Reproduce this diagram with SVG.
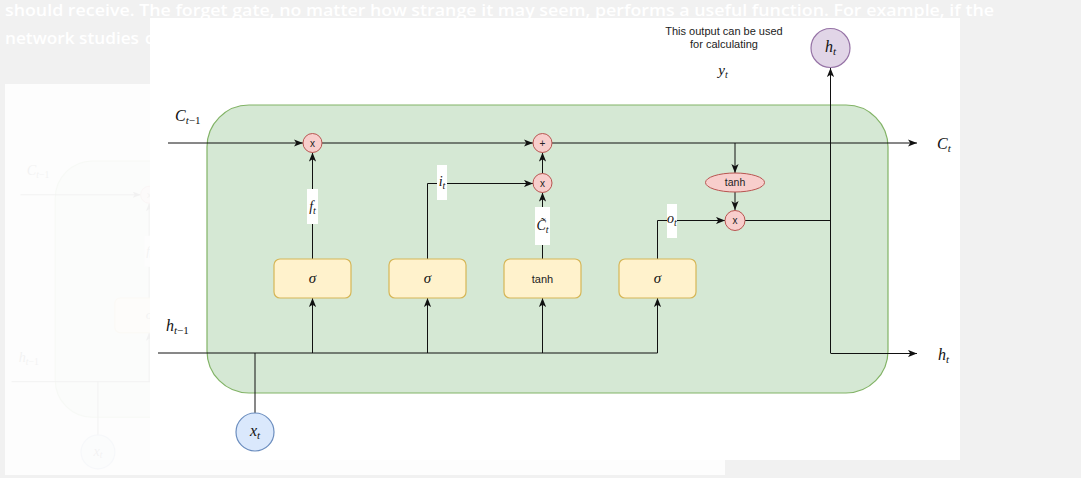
<svg xmlns="http://www.w3.org/2000/svg" xmlns:xlink="http://www.w3.org/1999/xlink" width="1081" height="478" viewBox="0 0 1081 478">
<defs>
<style>
.bgtxt{font-family:"Open Sans","Liberation Sans",sans-serif;font-weight:600;font-size:16px;fill:#ffffff}
.ln{fill:none;stroke:#111;stroke-width:1}
.arr{marker-end:url(#ah)}
.op{fill:#f8cecc;stroke:#b85450;stroke-width:1}
.gate{fill:#fff2cc;stroke:#d6b656;stroke-width:1.2}
.m{font-family:"Liberation Serif","DejaVu Serif",serif;font-style:italic;fill:#111}
.s{font-family:"Liberation Sans",Arial,sans-serif;fill:#222}
.lblbg{fill:#ffffff}
</style>
<marker id="ah" viewBox="0 0 10 8" refX="10" refY="4" markerWidth="9" markerHeight="7.2" orient="auto" markerUnits="userSpaceOnUse">
<path d="M0,0 L10,4 L0,8 L2.5,4 z" fill="#111"/>
</marker>
<clipPath id="leftclip"><rect x="5" y="84" width="145" height="391"/></clipPath>
</defs>

<rect x="0" y="0" width="1081" height="478" fill="#f1f1f1"/>
<text class="bgtxt" x="5" y="16" textLength="989" lengthAdjust="spacingAndGlyphs">should receive. The forget gate, no matter how strange it may seem, performs a useful function. For example, if the</text>
<text class="bgtxt" x="5" y="44"><tspan textLength="134" lengthAdjust="spacingAndGlyphs">network studies</tspan><tspan x="145">c</tspan></text>

<rect x="5" y="84" width="720" height="391" fill="#fdfdfd"/>
<g id="ghost" clip-path="url(#leftclip)">
<use xlink:href="#diagram" href="#diagram" transform="matrix(0.89 0 0 0.89 -129 67.5)" opacity="0.045"/>
</g>

<rect x="150" y="18" width="810" height="442" fill="#ffffff"/>

<g id="diagram">
<g id="cell">
<rect x="207" y="105" width="681" height="288" rx="42" ry="42" fill="#d5e8d4" stroke="#82b366" stroke-width="1.2"/>
</g>

<g id="connectors">
<path class="ln arr" d="M168,143 H303"/>
<path class="ln arr" d="M322,143 H533"/>
<path class="ln arr" d="M552,143 H917"/>
<path class="ln" d="M158,353 H657.5"/>
<path class="ln" d="M255,413 V353"/>
<path class="ln arr" d="M312.5,353 V298"/>
<path class="ln arr" d="M427.5,353 V298"/>
<path class="ln arr" d="M542.5,353 V298"/>
<path class="ln arr" d="M657.5,353 V298"/>
<path class="ln arr" d="M312.5,259 V152.5"/>
<path class="ln arr" d="M427.5,259 V183.5 H533"/>
<path class="ln arr" d="M542.5,259 V192.5"/>
<path class="ln arr" d="M542.5,173.5 V152.5"/>
<path class="ln arr" d="M657.5,259 V220.5 H725"/>
<path class="ln arr" d="M735,143 V173"/>
<path class="ln arr" d="M735,192 V210"/>
<path class="ln" d="M745,220.5 H830.5"/>
<path class="ln arr" d="M830.5,353 V68"/>
<path class="ln arr" d="M830.5,353.5 H917"/>
</g>

<g id="label-ft">
<rect class="lblbg" x="307" y="189" width="11" height="35"/>
<text class="m" x="312.5" y="211" font-size="14" text-anchor="middle">f<tspan font-size="10" dy="3">t</tspan></text>
</g>
<g id="label-it">
<rect class="lblbg" x="437" y="165" width="10" height="35"/>
<text class="m" x="442" y="186" font-size="14" text-anchor="middle">i<tspan font-size="10" dy="3">t</tspan></text>
</g>
<g id="label-ct-tilde">
<rect class="lblbg" x="535" y="207" width="15" height="38"/>
<text class="m" x="542.5" y="230" font-size="14" text-anchor="middle">C̃<tspan font-size="10" dy="3">t</tspan></text>
</g>
<g id="label-ot">
<rect class="lblbg" x="667" y="204" width="10" height="34"/>
<text class="m" x="672" y="223" font-size="14" text-anchor="middle">o<tspan font-size="10" dy="3">t</tspan></text>
</g>

<g id="forget-mul">
<circle class="op" cx="312.5" cy="143" r="9.5"/>
<text class="s" x="312.5" y="146.5" font-size="10" text-anchor="middle">x</text>
</g>
<g id="cell-add">
<circle class="op" cx="542.5" cy="143" r="9.5"/>
<text class="s" x="542.5" y="146.5" font-size="10" text-anchor="middle">+</text>
</g>
<g id="input-mul">
<circle class="op" cx="542.5" cy="183" r="9.5"/>
<text class="s" x="542.5" y="186.5" font-size="10" text-anchor="middle">x</text>
</g>
<g id="output-mul">
<circle class="op" cx="735" cy="220.5" r="10"/>
<text class="s" x="735" y="224" font-size="10" text-anchor="middle">x</text>
</g>
<g id="tanh-cell">
<ellipse class="op" cx="735" cy="182.5" rx="29.5" ry="9.5"/>
<text class="s" x="735" y="186" font-size="10.5" text-anchor="middle">tanh</text>
</g>

<g id="forget-gate">
<rect class="gate" x="274" y="259" width="77" height="39" rx="6"/>
<text class="m" x="312.5" y="283" font-size="15" text-anchor="middle">σ</text>
</g>
<g id="input-gate">
<rect class="gate" x="389" y="259" width="77" height="39" rx="6"/>
<text class="m" x="427.5" y="283" font-size="15" text-anchor="middle">σ</text>
</g>
<g id="candidate">
<rect class="gate" x="504" y="259" width="77" height="39" rx="6"/>
<text class="s" x="542.5" y="282.5" font-size="11" text-anchor="middle">tanh</text>
</g>
<g id="output-gate">
<rect class="gate" x="619" y="259" width="77" height="39" rx="6"/>
<text class="m" x="657.5" y="283" font-size="15" text-anchor="middle">σ</text>
</g>

<g id="xt">
<circle cx="255" cy="432" r="19" fill="#dae8fc" stroke="#6c8ebf" stroke-width="1.2"/>
<text class="m" x="255" y="436" font-size="16" text-anchor="middle">x<tspan font-size="11" dy="3">t</tspan></text>
</g>
<g id="ht-out">
<circle cx="830.5" cy="48" r="19.5" fill="#e1d5e7" stroke="#9673a6" stroke-width="1.2"/>
<text class="m" x="830.5" y="52" font-size="16" text-anchor="middle">h<tspan font-size="11" dy="3">t</tspan></text>
</g>

<g id="labels">
<text class="m" x="175" y="121" font-size="16">C<tspan font-size="11" dy="3">t</tspan><tspan font-size="11" font-style="normal">−1</tspan></text>
<text class="m" x="166" y="331" font-size="16">h<tspan font-size="11" dy="3">t</tspan><tspan font-size="11" font-style="normal">−1</tspan></text>
<text class="m" x="937" y="149" font-size="16">C<tspan font-size="11" dy="3">t</tspan></text>
<text class="m" x="938" y="360" font-size="16">h<tspan font-size="11" dy="3">t</tspan></text>
<text class="s" x="724" y="35" font-size="11" text-anchor="middle">This output can be used</text>
<text class="s" x="724" y="48" font-size="11" text-anchor="middle">for calculating</text>
<text class="m" x="723" y="75" font-size="15" text-anchor="middle">y<tspan font-size="10" dy="3">t</tspan></text>
</g>
</g>
</svg>
